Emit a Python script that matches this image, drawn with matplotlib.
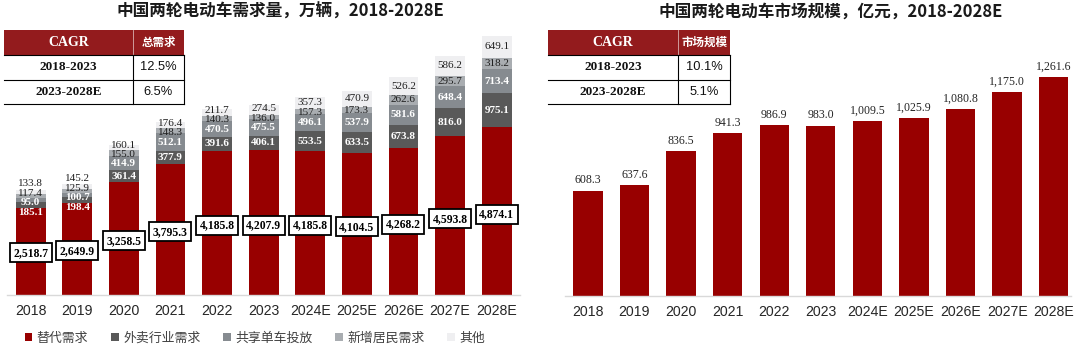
import matplotlib
matplotlib.use("Agg")
import matplotlib.pyplot as plt
from matplotlib.patches import Rectangle, Patch
import numpy as np

# ---------------- data ----------------
years = ["2018", "2019", "2020", "2021", "2022", "2023",
         "2024E", "2025E", "2026E", "2027E", "2028E"]
replace_demand = [2518.7, 2649.9, 3258.5, 3795.3, 4185.8, 4207.9,
                  4185.8, 4104.5, 4268.2, 4593.8, 4874.1]
delivery_demand = [185.1, 198.4, 361.4, 377.9, 391.6, 406.1,
                   553.5, 633.5, 673.8, 816.0, 975.1]
sharing_demand = [95.0, 100.7, 414.9, 512.1, 470.5, 475.5,
                  496.1, 537.9, 581.6, 648.4, 713.4]
resident_demand = [117.4, 125.9, 155.0, 148.3, 140.3, 136.0,
                   157.3, 173.3, 262.6, 295.7, 318.2]
other_demand = [133.8, 145.2, 160.1, 176.4, 211.7, 274.5,
                357.3, 470.9, 526.2, 586.2, 649.1]
series_names = ["替代需求", "外卖行业需求", "共享单车投放", "新增居民需求", "其他"]

market_size = [608.3, 637.6, 836.5, 941.3, 986.9, 983.0,
               1009.5, 1025.9, 1080.8, 1175.0, 1261.6]

title_left = "中国两轮电动车需求量，万辆，2018-2028E"
title_right = "中国两轮电动车市场规模，亿元，2018-2028E"
cagr_periods = ["2018-2023", "2023-2028E"]
cagr_left_header = "总需求"
cagr_left = ["12.5%", "6.5%"]
cagr_right_header = "市场规模"
cagr_right = ["10.1%", "5.1%"]

# ---------------- style ----------------
RED = "#980000"
DARK = "#595959"
MID = "#868b90"
LIGHT = "#a9adb1"
LIGHTEST = "#efeff1"
colors = [RED, DARK, MID, LIGHT, LIGHTEST]
HEADER = "#931b1d"
CJK = ["Noto Sans CJK SC", "DejaVu Sans"]
SERIF = ["Liberation Serif", "DejaVu Serif"]
SANS = ["Liberation Sans", "DejaVu Sans"]

W, H = 1080, 353
fig = plt.figure(figsize=(W / 100, H / 100), dpi=100)

def frac_rect(x0, x1, ytop, ybot):
    return [x0 / W, (H - ybot) / H, (x1 - x0) / W, (ybot - ytop) / H]

ax1 = fig.add_axes(frac_rect(7.3, 520, 30, 294.5))
ax2 = fig.add_axes(frac_rect(565, 1071, 30, 296))

x = np.arange(len(years))
bw = 0.64

for ax in (ax1, ax2):
    for s in ("top", "left", "right"):
        ax.spines[s].set_visible(False)
    ax.spines["bottom"].set_color("#d9d9d9")
    ax.spines["bottom"].set_linewidth(1.0)
    ax.set_yticks([])
    ax.set_xticks(x)
    ax.set_xticklabels(years, family=SANS, fontsize=10.2, color="#262626")
    ax.tick_params(axis="x", length=0, pad=6.5)

# ---------------- left chart ----------------
ax1.set_xlim(-0.5, 10.5)
ax1.set_ylim(0, 7690)
stack = [replace_demand, delivery_demand, sharing_demand, resident_demand, other_demand]
bottom = np.zeros(len(years))
segs = []
for vals, col, name in zip(stack, colors, series_names):
    vals = np.array(vals)
    ax1.bar(x, vals, bw, bottom=bottom, color=col, label=name, linewidth=0)
    segs.append((bottom.copy(), vals))
    bottom = bottom + vals

# boxed labels for replacement demand
for i, v in enumerate(replace_demand):
    ax1.text(i, v * 0.48, f"{v:,.1f}", ha="center", va="center",
             family=SERIF, fontsize=8.4, fontweight="bold", color="black",
             bbox=dict(boxstyle="square,pad=0.3", fc="white", ec="black", lw=1.3),
             zorder=5)

# small segment labels, spread to avoid overlaps
gap = 275.0
lab_styles = [("white", "bold"), ("white", "bold"), ("#1f1f1f", "normal"), ("#1f1f1f", "normal")]

def spread(centers, gap):
    clusters = [[c] for c in centers]
    def positions(cl):
        m = np.mean(cl)
        n = len(cl)
        return [m + (k - (n - 1) / 2) * gap for k in range(n)]
    changed = True
    while changed:
        changed = False
        for j in range(len(clusters) - 1):
            pa = positions(clusters[j])
            pb = positions(clusters[j + 1])
            if pb[0] - pa[-1] < gap - 1e-9:
                clusters[j] = clusters[j] + clusters[j + 1]
                del clusters[j + 1]
                changed = True
                break
    out = []
    for cl in clusters:
        out += positions(cl)
    return out

for i in range(len(years)):
    centers = [segs[k][0][i] + segs[k][1][i] / 2 for k in range(1, 5)]
    pos = spread(centers, gap)
    for k in range(4):
        v = segs[k + 1][1][i]
        col, wt = lab_styles[k]
        ax1.text(i, pos[k], f"{v:,.1f}", ha="center", va="center",
                 family=SERIF, fontsize=8.0, fontweight=wt, color=col, zorder=4)

handles = [Patch(facecolor=c, edgecolor="none") for c in colors]
ax1.legend(handles, series_names, loc="center", bbox_to_anchor=(255 / W, (H - 338) / H),
           bbox_transform=fig.transFigure, ncol=5, frameon=False,
           prop={"family": CJK, "size": 9.3}, labelcolor="#404040",
           handlelength=0.6, handleheight=0.6, handletextpad=0.35, columnspacing=1.75)

# ---------------- right chart ----------------
ax2.set_xlim(-0.49, 10.37)
ax2.set_ylim(0, 1534)
ax2.bar(x, market_size, 0.63, color=RED, linewidth=0)
for i, v in enumerate(market_size):
    ax2.annotate(f"{v:,.1f}", (i, v), xytext=(0, 3), textcoords="offset points",
                 ha="center", va="bottom", family=SERIF, fontsize=8.6, color="#262626")

# ---------------- overlay: titles and tables ----------------
ov = fig.add_axes([0, 0, 1, 1], facecolor="none")
ov.set_xlim(0, W)
ov.set_ylim(H, 0)
ov.axis("off")

ov.text(280, 12, title_left, ha="center", va="center", family=CJK,
        fontsize=12.0, fontweight="bold", color="#1a1a1a")
ov.text(831, 12, title_right, ha="center", va="center", family=CJK,
        fontsize=12.0, fontweight="bold", color="#1a1a1a")

def draw_table(x0, xd, x1, header, values):
    y0, y1, y2, y3 = 30, 55, 80, 104
    ov.add_patch(Rectangle((x0, y0), x1 - x0, y1 - y0, facecolor=HEADER, edgecolor="none"))
    ov.plot([xd, xd], [y0, y1], color="#d9b0b0", lw=0.6)
    ov.plot([xd, xd], [y1, y3], color="black", lw=0.8)
    ov.plot([x1, x1], [y1, y3], color="black", lw=0.8)
    for yy in (y1, y2, y3):
        ov.plot([x0, x1], [yy, yy], color="black", lw=0.8)
    ov.text((x0 + xd) / 2, (y0 + y1) / 2, "CAGR", ha="center", va="center",
            family=SERIF, fontsize=10, fontweight="bold", color="white")
    ov.text((xd + x1) / 2, (y0 + y1) / 2, header, ha="center", va="center",
            family=CJK, fontsize=8.3, fontweight="bold", color="white")
    for (ya, yb), per, val in zip([(y1, y2), (y2, y3)], cagr_periods, values):
        ov.text((x0 + xd) / 2, (ya + yb) / 2, per, ha="center", va="center",
                family=SERIF, fontsize=9.5, fontweight="bold", color="#111111")
        ov.text((xd + x1) / 2, (ya + yb) / 2, val, ha="center", va="center",
                family=SANS, fontsize=9.3, color="#111111")

draw_table(4, 133, 184, cagr_left_header, cagr_left)
draw_table(548, 678, 730, cagr_right_header, cagr_right)

fig.savefig("out.png", dpi=100)
